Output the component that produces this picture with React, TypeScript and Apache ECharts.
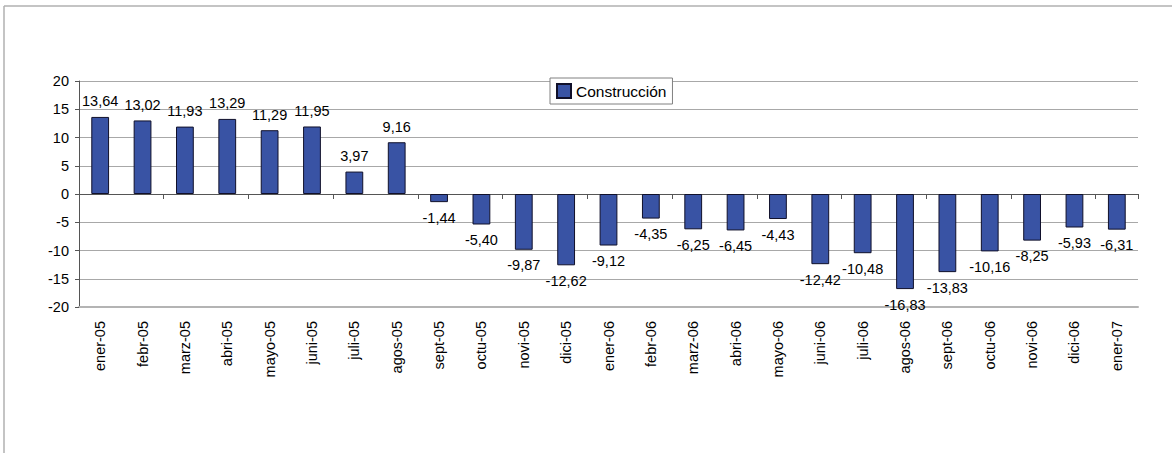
import React, { useEffect, useRef } from "react";
import * as echarts from "echarts";

const categories = [
  "ener-05", "febr-05", "marz-05", "abri-05", "mayo-05", "juni-05", "juli-05", "agos-05",
  "sept-05", "octu-05", "novi-05", "dici-05", "ener-06", "febr-06", "marz-06", "abri-06",
  "mayo-06", "juni-06", "juli-06", "agos-06", "sept-06", "octu-06", "novi-06", "dici-06", "ener-07",
];
const construccion = [
  13.64, 13.02, 11.93, 13.29, 11.29, 11.95, 3.97, 9.16,
  -1.44, -5.4, -9.87, -12.62, -9.12, -4.35, -6.25, -6.45,
  -4.43, -12.42, -10.48, -16.83, -13.83, -10.16, -8.25, -5.93, -6.31,
];
const seriesName = "Construcción";
const yMin = -20;
const yMax = 20;
const yStep = 5;

const FONT = "'Liberation Sans', Arial, sans-serif";

export default function App() {
  const ref = useRef<HTMLDivElement>(null);
  useEffect(() => {
    document.body.style.margin = "0";
    const chart = echarts.init(ref.current!, null, { renderer: "svg" });
    const fmt = (v: number) => v.toFixed(2).replace(".", ",");
    chart.setOption({
      animation: false,
      backgroundColor: "#ffffff",
      textStyle: { fontFamily: FONT },
      graphic: [
        { type: "line", shape: { x1: 4, y1: 6, x2: 1172, y2: 6 }, style: { stroke: "#b0b0b0", lineWidth: 1.5 } },
        { type: "line", shape: { x1: 4, y1: 6, x2: 4, y2: 453 }, style: { stroke: "#b0b0b0", lineWidth: 1.5 } },
      ],
      legend: {
        left: 550,
        top: 78,
        padding: [5, 6, 5, 6],
        borderColor: "#808080",
        borderWidth: 1,
        backgroundColor: "#ffffff",
        itemWidth: 14,
        itemHeight: 14,
        icon: "rect",
        textStyle: { fontSize: 15.5, color: "#000", fontFamily: FONT },
        data: [seriesName],
      },
      grid: { left: 79, top: 81, right: 34, bottom: 146, containLabel: false },
      xAxis: [
        {
          type: "category",
          data: categories,
          axisLine: { onZero: true, lineStyle: { color: "#555", width: 1 } },
          axisTick: { show: true, alignWithLabel: false, length: 5, lineStyle: { color: "#555" } },
          axisLabel: { show: false },
          splitLine: { show: false },
        },
        {
          type: "category",
          data: categories,
          position: "bottom",
          axisLine: { onZero: false, show: true, lineStyle: { color: "#b4b4b4", width: 2 } },
          axisTick: { show: false },
          axisLabel: {
            show: true,
            rotate: 90,
            margin: 14,
            fontSize: 14.5,
            color: "#000",
            fontFamily: FONT,
          },
        },
      ],
      yAxis: {
        type: "value",
        min: yMin,
        max: yMax,
        interval: yStep,
        axisLine: { show: true, lineStyle: { color: "#555" } },
        axisTick: { show: true, length: 4, inside: false, lineStyle: { color: "#555" } },
        axisLabel: { fontSize: 14.5, color: "#000", margin: 10, fontFamily: FONT },
        splitLine: { show: true, lineStyle: { color: "#a8a8a8", width: 1 } },
      },
      series: [
        {
          name: seriesName,
          type: "bar",
          xAxisIndex: 0,
          barWidth: "42%",
          itemStyle: { color: "#3953a4", borderColor: "#10102a", borderWidth: 1 },
          data: construccion.map((v) => ({
            value: v,
            label: {
              show: true,
              position: v >= 0 ? "top" : "bottom",
              distance: 8,
              formatter: () => fmt(v),
              fontSize: 14.5,
              color: "#000",
              fontFamily: FONT,
            },
          })),
        },
      ],
    });
    return () => chart.dispose();
  }, []);
  return <div ref={ref} style={{ width: 1172, height: 453 }} />;
}
